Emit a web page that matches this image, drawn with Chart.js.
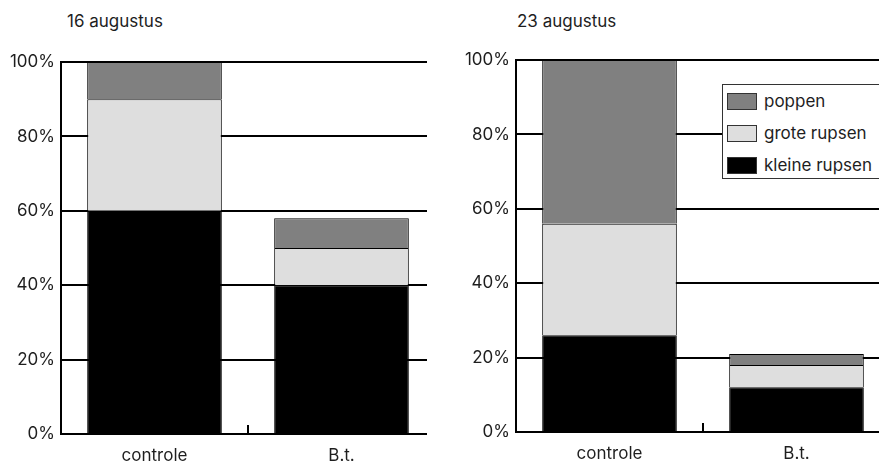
<!DOCTYPE html>
<html>
<head>
<meta charset="utf-8">
<script src="https://cdn.jsdelivr.net/npm/chart.js@4"></script>
<style>
  html, body { margin: 0; padding: 0; background: #fff; }
  body { width: 879px; height: 466px; position: relative; overflow: hidden; font-family: Inter, sans-serif; color: #1e1e1e; }
  .wrap { position: absolute; top: 0; height: 466px; overflow: hidden; }
  .title { position: absolute; top: 10px; font-size: 17px; line-height: 22px; }
  #legend { position: absolute; left: 722px; top: 84px; width: 170px; height: 95px; border: 1px solid #333; background: #fff; box-sizing: border-box; }
  #legend div { position: absolute; left: 4px; font-size: 17px; height: 20px; line-height: 20px; white-space: nowrap; }
  #legend span { display: inline-block; width: 28px; height: 15px; border: 1px solid #333; vertical-align: -3px; margin-right: 7px; }
</style>
</head>
<body>
<div class="title" style="left:67px">16 augustus</div>
<div class="title" style="left:517px">23 augustus</div>
<div class="wrap" style="left:0;width:427px"><canvas id="c1"></canvas></div>
<div class="wrap" style="left:440px;width:439px"><canvas id="c2"></canvas></div>
<div id="legend"></div>
<script>
// categories and series (percent of total)
let categories = ["controle", "B.t."];
let seriesNames = ["kleine rupsen", "grote rupsen", "poppen"];
let seriesColors = ["#000000", "#dedede", "#808080"];

let kleine16 = [60, 40];
let grote16 = [30, 10];
let poppen16 = [10, 8];

let kleine23 = [26, 12];
let grote23 = [30, 6];
let poppen23 = [44, 3];

let yTicks = [0, 20, 40, 60, 80, 100];

// short tick on the x axis between the two categories
const middleTick = {
    id: 'middleTick',
    afterDatasetsDraw(chart) {
        let x = chart.scales.x;
        let px = (x.getPixelForValue(0) + x.getPixelForValue(1)) / 2;
        let ctx = chart.ctx;
        ctx.save();
        ctx.strokeStyle = "#000";
        ctx.lineWidth = 2;
        ctx.beginPath();
        ctx.moveTo(px, chart.chartArea.bottom);
        ctx.lineTo(px, chart.chartArea.bottom - 9);
        ctx.stroke();
        ctx.restore();
    }
};

function makeChart(id, width, dataSets, axisW, top, bottomH, rightPad) {
    let canvas = document.getElementById(id);
    canvas.style.width = width + "px";
    canvas.style.height = "466px";
    canvas.width = width;
    canvas.height = 466;
    return new Chart(canvas, {
        type: 'bar',
        data: {
            labels: categories,
            datasets: dataSets.map((d, i) => ({
                label: seriesNames[i],
                data: d,
                backgroundColor: seriesColors[i],
                borderColor: "#000",
                borderWidth: 1,
                barPercentage: 0.72,
                categoryPercentage: 1
            }))
        },
        options: {
            responsive: false,
            animation: false,
            layout: { padding: { top: top, right: rightPad, left: 0, bottom: 0 } },
            plugins: {
                legend: { display: false },
                tooltip: { enabled: false }
            },
            scales: {
                x: {
                    stacked: true,
                    grid: { display: false, drawTicks: false },
                    border: { display: true, color: "#000", width: 2 },
                    ticks: { color: "#1e1e1e", font: { family: "Inter", size: 17 }, padding: 12 },
                    afterFit: s => { s.height = bottomH; }
                },
                y: {
                    stacked: true,
                    min: 0,
                    max: 100,
                    afterBuildTicks: s => { s.ticks = yTicks.map(v => ({ value: v })); },
                    grid: { color: "#000", lineWidth: 2, drawTicks: false },
                    border: { display: true, color: "#000", width: 2 },
                    ticks: {
                        color: "#1e1e1e",
                        font: { family: "Inter", size: 17 },
                        padding: 6,
                        callback: v => v + "%"
                    },
                    afterFit: s => { s.width = axisW; }
                }
            }
        },
        plugins: [middleTick]
    });
}

makeChart("c1", 444, [kleine16, grote16, poppen16], 61, 62, 32, 9);
makeChart("c2", 450, [kleine23, grote23, poppen23], 76, 60, 34, 0);

// legend for the right panel, top item is the top of the stack
let legend = document.getElementById("legend");
[2, 1, 0].forEach((i, row) => {
    let item = document.createElement("div");
    item.style.top = (6 + row * 32) + "px";
    item.innerHTML = '<span style="background:' + seriesColors[i] + '"></span>' + seriesNames[i];
    legend.appendChild(item);
});
</script>
</body>
</html>
